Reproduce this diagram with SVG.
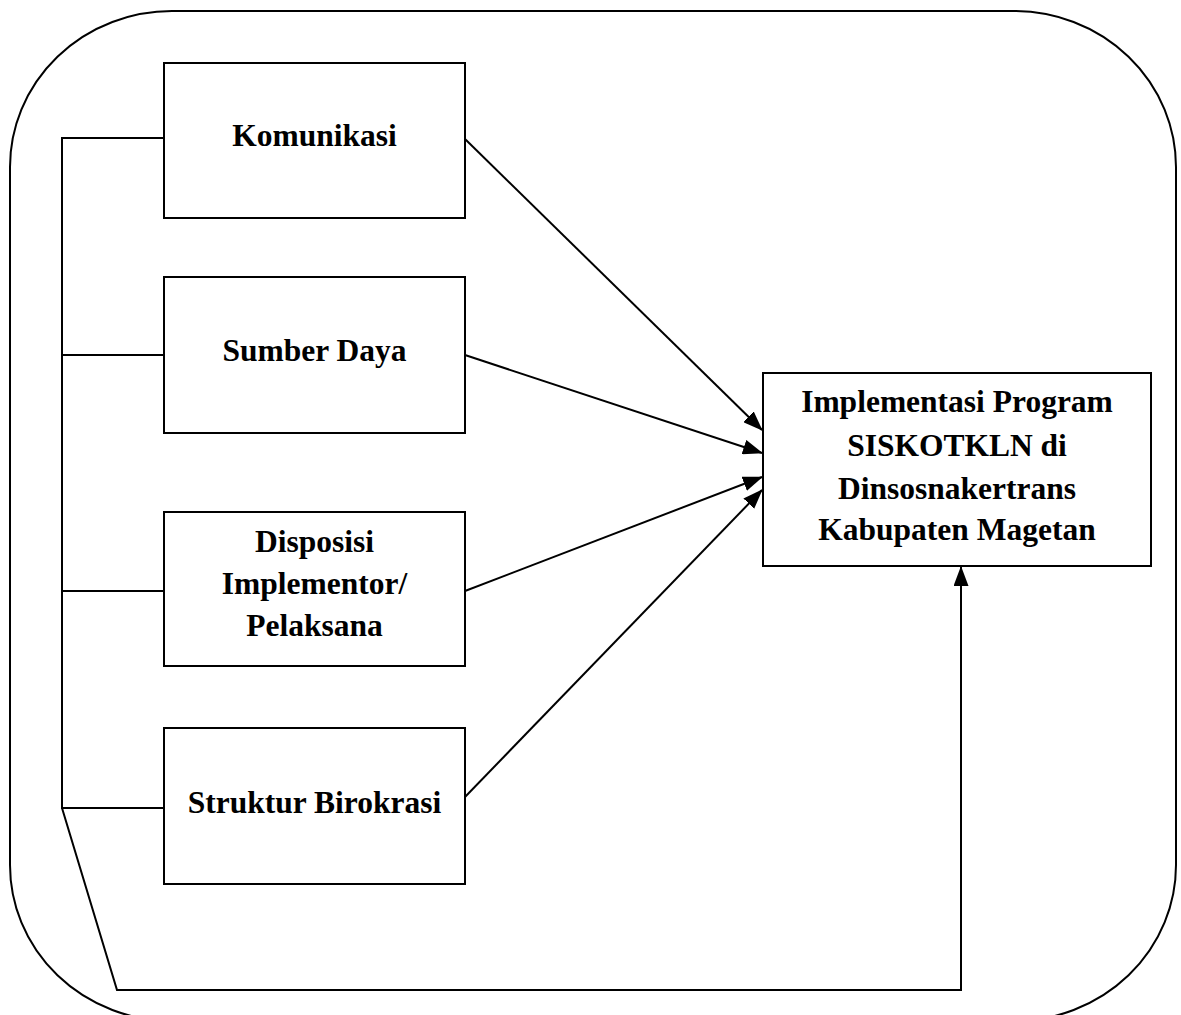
<svg xmlns="http://www.w3.org/2000/svg" width="1181" height="1015" viewBox="0 0 1181 1015">
<style>
.box{fill:#fff;stroke:#000;stroke-width:2}
.t{font-family:"Liberation Serif","Times New Roman",serif;font-weight:bold;font-size:31.5px;fill:#000;text-anchor:middle}
.c{fill:none;stroke:#000;stroke-width:2}
</style>
<defs>
<marker id="ah" markerUnits="userSpaceOnUse" markerWidth="20" markerHeight="15" refX="19" refY="7.5" orient="auto">
<path d="M0,0 L20,7.5 L0,15 Z" fill="#000"/>
</marker>
</defs>
<rect x="0" y="0" width="1181" height="1015" fill="#fff"/>
<rect id="frame" x="10" y="11" width="1166" height="1010" rx="162" ry="156" fill="none" stroke="#000" stroke-width="2"/>
<g id="komunikasi"><rect class="box" x="164" y="63" width="301" height="155"/><text class="t" x="314.5" y="146">Komunikasi</text></g>
<g id="sumber-daya"><rect class="box" x="164" y="277" width="301" height="156"/><text class="t" x="314.5" y="361">Sumber Daya</text></g>
<g id="disposisi"><rect class="box" x="164" y="512" width="301" height="154"/><text class="t" x="314.5" y="552">Disposisi</text><text class="t" x="314.5" y="594">Implementor/</text><text class="t" x="314.5" y="636">Pelaksana</text></g>
<g id="struktur"><rect class="box" x="164" y="728" width="301" height="156"/><text class="t" x="314.5" y="813">Struktur Birokrasi</text></g>
<g id="implementasi"><rect class="box" x="763" y="373" width="388" height="193"/><text class="t" x="957" y="412">Implementasi Program</text><text class="t" x="957" y="456">SISKOTKLN di</text><text class="t" x="957" y="499">Dinsosnakertrans</text><text class="t" x="957" y="540">Kabupaten Magetan</text></g>
<g id="connectors">
<path class="c" d="M164,138 H62 V808 H164 M62,355 H164 M62,591 H164"/>
<path class="c" d="M62,808 L117,990 H961 V567" marker-end="url(#ah)"/>
<path class="c" d="M465,139 L762,430" marker-end="url(#ah)"/>
<path class="c" d="M465,355 L762,453" marker-end="url(#ah)"/>
<path class="c" d="M465,591 L762,477" marker-end="url(#ah)"/>
<path class="c" d="M465,797 L762,490" marker-end="url(#ah)"/>
</g>
</svg>
